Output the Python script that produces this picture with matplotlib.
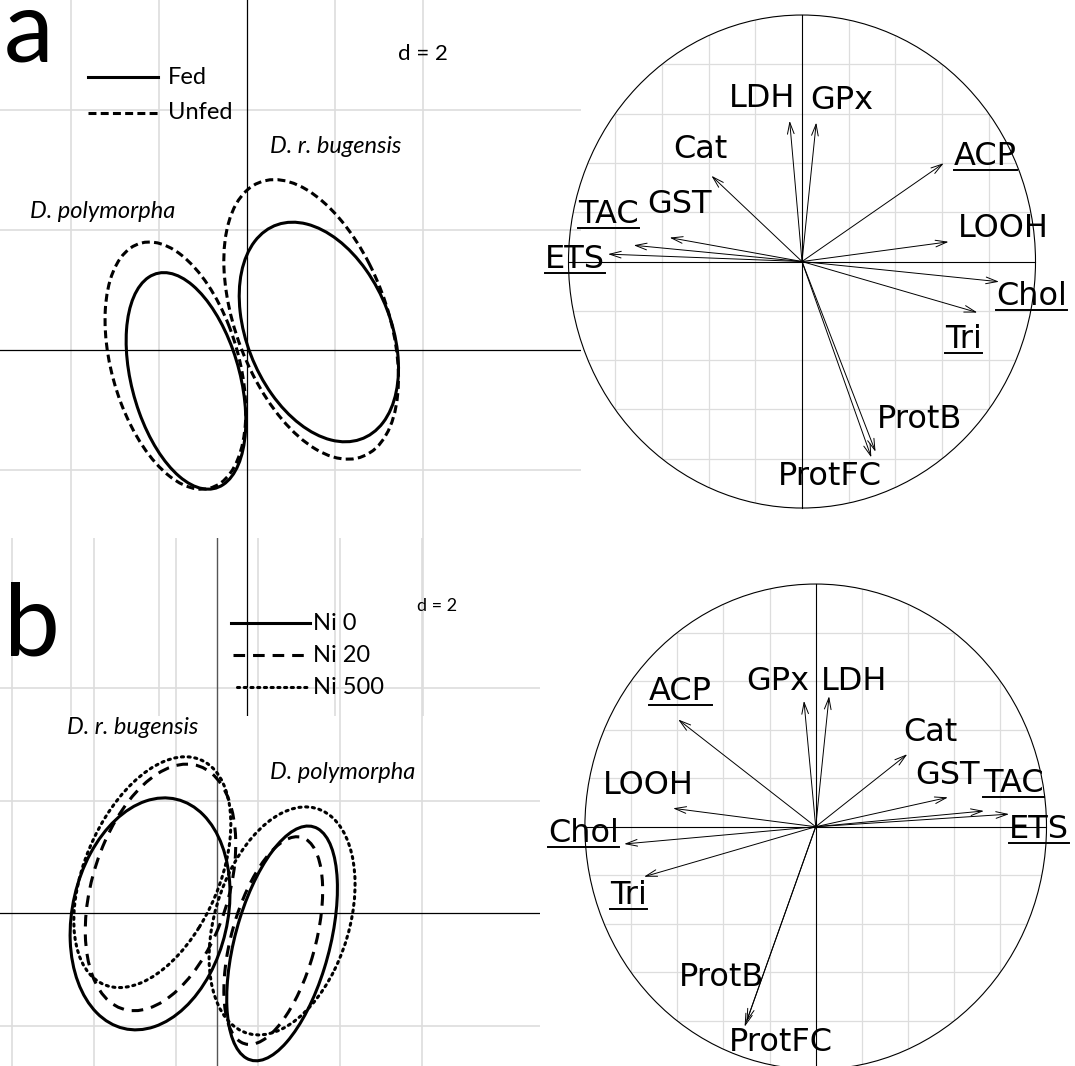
import numpy as np
import matplotlib
matplotlib.use('agg')
import matplotlib.pyplot as plt
from matplotlib.patches import Ellipse
from matplotlib.lines import Line2D
from matplotlib.transforms import IdentityTransform, offset_copy

# ---- panel a: class ellipses (centre x, centre y, half-width, half-height, correlation)
a_groups = ['D. polymorpha', 'D. polymorpha', 'D. r. bugensis', 'D. r. bugensis']
a_feeding = ['Fed', 'Unfed', 'Fed', 'Unfed']
a_cx = [-1.38, -1.62, 1.64, 1.465]
a_cy = [-0.515, -0.26, 0.30, 0.51]
a_sx = [1.36, 1.60, 1.81, 1.985]
a_sy = [1.805, 2.06, 1.83, 2.33]
a_rho = [-0.37, -0.37, -0.33, -0.42]

# ---- panel b: class ellipses
b_groups = ['D. r. bugensis'] * 3 + ['D. polymorpha'] * 3
b_nickel = ['Ni 0', 'Ni 20', 'Ni 500', 'Ni 0', 'Ni 20', 'Ni 500']
b_cx = [-1.64, -1.385, -1.585, 1.58, 1.365, 1.58]
b_cy = [-0.01, 0.46, 0.73, -0.535, -0.485, -0.135]
b_sx = [1.95, 1.835, 1.915, 1.35, 1.205, 1.78]
b_sy = [2.06, 2.19, 2.05, 2.085, 1.845, 2.025]
b_rho = [0.18, 0.35, 0.42, 0.47, 0.48, 0.32]

# ---- correlation circles: variable loadings
variables = ['LDH', 'GPx', 'Cat', 'ACP', 'GST', 'TAC', 'ETS', 'LOOH',
             'Chol', 'Tri', 'ProtB', 'ProtFC']
underlined = ['ACP', 'TAC', 'ETS', 'Chol', 'Tri']
a_load_x = [-0.053, 0.061, -0.388, 0.607, -0.567, -0.721, -0.831, 0.628,
            0.844, 0.751, 0.315, 0.297]
a_load_y = [0.571, 0.564, 0.348, 0.399, 0.097, 0.066, 0.030, 0.080,
            -0.082, -0.207, -0.772, -0.795]
b_load_x = [0.058, -0.051, 0.397, -0.596, 0.573, 0.729, 0.838, -0.618,
            -0.830, -0.744, -0.300, -0.308]
b_load_y = [0.538, 0.519, 0.299, 0.442, 0.121, 0.065, 0.052, 0.076,
            -0.071, -0.206, -0.804, -0.824]

# label placement (centre of capitals) in the circles
a_lab_x = [-0.171, 0.172, -0.436, 0.786, -0.524, -0.829, -0.974, 0.862,
           0.982, 0.692, 0.502, 0.118]
a_lab_y = [0.672, 0.665, 0.468, 0.440, 0.243, 0.202, 0.019, 0.145,
           -0.128, -0.305, -0.628, -0.859]
b_lab_x = [0.167, -0.163, 0.496, -0.587, 0.570, 0.858, 0.968, -0.726,
           -1.006, -0.811, -0.409, -0.151]
b_lab_y = [0.611, 0.611, 0.402, 0.570, 0.222, 0.189, 0.003, 0.182,
           -0.017, -0.271, -0.608, -0.876]

GRID = '#dddddd'
CAL = ['Lato', 'DejaVu Sans']
W, H = 1075.0, 1066.0

styles = {
    'Fed': '-', 'Unfed': (0, (2.6, 1.4)),
    'Ni 0': '-', 'Ni 20': (0, (3.8, 2.6)), 'Ni 500': (0, (0.7, 1.5)),
}


def class_ellipse(ax, cx, cy, sx, sy, rho, ls):
    cov = np.array([[sx * sx, rho * sx * sy], [rho * sx * sy, sy * sy]])
    vals, vecs = np.linalg.eigh(cov)
    ang = np.degrees(np.arctan2(vecs[1, 1], vecs[0, 1]))
    e = Ellipse((cx, cy), 2 * np.sqrt(vals[1]), 2 * np.sqrt(vals[0]), angle=ang,
                fill=False, lw=2.2, ls=ls, color='black', zorder=3)
    if ls != '-' and ls[1][0] < 1:
        e.set_capstyle('round')
    ax.add_patch(e)


def px_axes(fig, left, top, width, height):
    return fig.add_axes([left / W, 1 - (top + height) / H, width / W, height / H])


def corr_circle(fig, rect, lx, ly, tx, ty):
    ax = px_axes(fig, *rect)
    ax.set_xlim(-1.2, 1.2)
    ax.set_ylim(-1.05, 1.05)
    ax.axis('off')
    ax.patch.set_alpha(0)
    circ = Ellipse((0, 0), 2, 2, fill=False, lw=0.8, color='black', zorder=2)
    ax.add_patch(circ)
    for g in [-0.8, -0.6, -0.4, -0.2, 0.2, 0.4, 0.6, 0.8]:
        ax.axvline(g, color=GRID, lw=0.9, zorder=0).set_clip_path(circ)
        ax.axhline(g, color=GRID, lw=0.9, zorder=0).set_clip_path(circ)
    ax.plot([-1, 1], [0, 0], color='black', lw=0.8, zorder=1)
    ax.plot([0, 0], [-1, 1], color='black', lw=0.8, zorder=1)
    for x, y in zip(lx, ly):
        ax.annotate('', xy=(x, y), xytext=(0, 0),
                    arrowprops=dict(arrowstyle='->,head_length=0.55,head_width=0.16',
                                    lw=0.7, color='black', shrinkA=0, shrinkB=0,
                                    mutation_scale=15))
    tr = offset_copy(ax.transData, fig=fig, y=-11.5, units='dots')
    texts = []
    for name, x, y in zip(variables, tx, ty):
        t = ax.text(x, y, name, transform=tr, ha='center', va='baseline',
                    fontsize=23, family='DejaVu Sans', zorder=4)
        if name in underlined:
            texts.append(t)
    return texts


fig = plt.figure(figsize=(W / 100, H / 100), dpi=100)

# ---------------- panel a, ellipses
ax = px_axes(fig, 0, 0, 581, 715.7)
ax.set_xlim(-246.7 / 44, (581 - 246.7) / 44)
ax.set_ylim((350 - 715.7) / 60, 350 / 60)
ax.axis('off')
for g in [-4, -2, 2, 4]:
    ax.axvline(g, color=GRID, lw=1.2, zorder=0)
for g in [-2, 2, 4]:
    ax.axhline(g, color=GRID, lw=1.2, zorder=0)
ax.axhline(0, color='black', lw=0.9, zorder=1)
ax.axvline(0, color='black', lw=0.9, zorder=1)
for i in range(len(a_cx)):
    class_ellipse(ax, a_cx[i], a_cy[i], a_sx[i], a_sy[i], a_rho[i], styles[a_feeding[i]])
for lab, y_line, y_txt in [('Fed', 4.555, 4.433), ('Unfed', 3.95, 3.85)]:
    ax.plot([-3.607, -2.016], [y_line, y_line], color='black', lw=2.2, ls=styles[lab])
    ax.text(-1.80, y_txt, lab, fontsize=17, family=CAL, va='baseline')
ax.text(3.445, 4.833, 'd = 2', fontsize=16, family=CAL, va='baseline')
ax.text(0.53, 3.278, 'D. r. bugensis', fontsize=17, family=CAL, style='italic', va='baseline')
ax.text(-4.925, 2.195, 'D. polymorpha', fontsize=17, family=CAL, style='italic', va='baseline')

# ---------------- panel b, ellipses
ax = px_axes(fig, 0, 537.7, 540, H - 537.7)
ax.set_xlim(-217.3 / 41, (540 - 217.3) / 41)
ax.set_ylim((913.3 - H) / 56.3, (913.3 - 537.7) / 56.3)
ax.axis('off')
ax.patch.set_alpha(0)
for g in [-5, -3, -1, 1, 3, 5]:
    ax.axvline(g, color=GRID, lw=1.2, zorder=0)
for g in [-2, 2, 4]:
    ax.axhline(g, color=GRID, lw=1.2, zorder=0)
ax.axhline(0, color='black', lw=0.9, zorder=1)
ax.axvline(0, color='#555555', lw=1.0, zorder=1)
for i in range(len(b_cx)):
    class_ellipse(ax, b_cx[i], b_cy[i], b_sx[i], b_sy[i], b_rho[i], styles[b_nickel[i]])
for lab, x0, y_line, y_txt in [('Ni 0', 0.334, 5.163, 5.032),
                               ('Ni 20', 0.39, 4.588, 4.458),
                               ('Ni 500', 0.473, 4.014, 3.890)]:
    ln, = ax.plot([x0, 2.25], [y_line, y_line], color='black', lw=2.2, ls=styles[lab])
    if lab == 'Ni 500':
        ln.set_dash_capstyle('round')
    ax.text(2.341, y_txt, lab, fontsize=17, family=CAL, va='baseline')
ax.text(4.863, 5.369, 'd = 2', fontsize=13, family=CAL, va='baseline')
ax.text(-3.673, 3.179, 'D. r. bugensis', fontsize=17, family=CAL, style='italic', va='baseline')
ax.text(1.285, 2.385, 'D. polymorpha', fontsize=17, family=CAL, style='italic', va='baseline')

# ---------------- correlation circles
ul = corr_circle(fig, (521.8, 2.7, 560.4, 517.65), a_load_x, a_load_y, a_lab_x, a_lab_y)
ul += corr_circle(fig, (538.75, 571.9, 553.9, 509.7), b_load_x, b_load_y, b_lab_x, b_lab_y)

fig.text(4 / W, 1 - 62 / H, 'a', fontsize=72, family=CAL, va='baseline')
fig.text(4 / W, 1 - 655 / H, 'b', fontsize=72, family=CAL, va='baseline')

# underline the labels that are underlined in the original
fig.canvas.draw()
r = fig.canvas.get_renderer()
for t in ul:
    bb = t.get_window_extent(r)
    fig.add_artist(Line2D([bb.x0, bb.x1], [bb.y0 + 2, bb.y0 + 2], lw=1.4,
                          color='black', transform=IdentityTransform()))

fig.savefig('out.png', dpi=100)
